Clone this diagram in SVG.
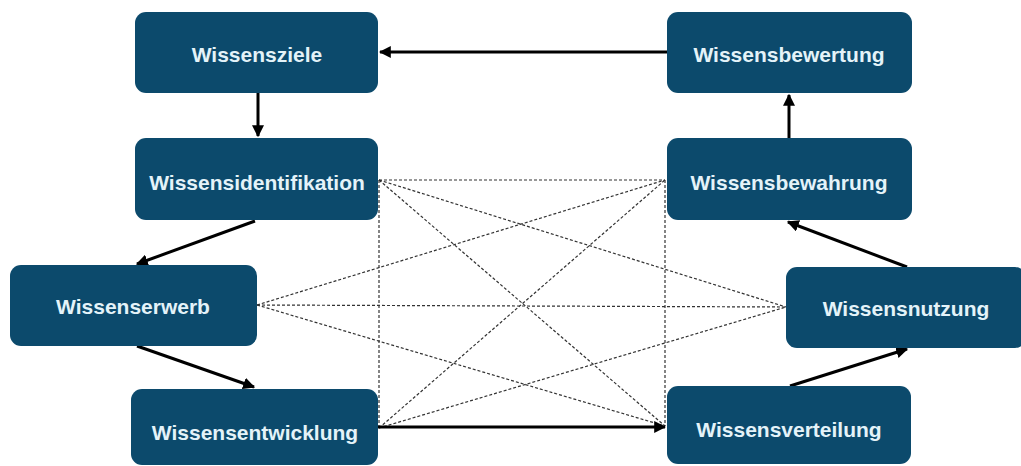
<svg xmlns="http://www.w3.org/2000/svg" width="1021" height="466" viewBox="0 0 1021 466">
<style>
.n rect{fill:#0c4a6c;}
.n text{font-family:"Liberation Sans",Arial,sans-serif;font-weight:bold;font-size:21px;fill:#e4f3f9;text-anchor:middle;dominant-baseline:central;}
.a{stroke:#000;stroke-width:3;fill:none;marker-end:url(#ah);}
.d{stroke:#333;stroke-width:1.2;stroke-dasharray:3 2;fill:none;}
</style>
<defs>
<marker id="ah" viewBox="0 0 10 10" refX="9" refY="5" markerWidth="4" markerHeight="4" orient="auto" markerUnits="strokeWidth">
<path d="M0,0 L10,5 L0,10 z" fill="#000"/>
</marker>
</defs>
<rect width="1021" height="466" fill="#fff"/>
<g id="connectors">
<line class="d" x1="379" y1="180" x2="665" y2="180"/>
<line class="d" x1="379" y1="180" x2="786" y2="307"/>
<line class="d" x1="379" y1="180" x2="665" y2="426"/>
<line class="d" x1="379" y1="180" x2="379" y2="428"/>
<line class="d" x1="257" y1="305" x2="665" y2="180"/>
<line class="d" x1="257" y1="305" x2="786" y2="307"/>
<line class="d" x1="257" y1="305" x2="665" y2="426"/>
<line class="d" x1="379" y1="428" x2="665" y2="180"/>
<line class="d" x1="379" y1="428" x2="786" y2="307"/>
<line class="d" x1="665" y1="180" x2="665" y2="426"/>
<line class="a" x1="667" y1="52" x2="380" y2="52"/>
<line class="a" x1="258" y1="93" x2="258" y2="136"/>
<line class="a" x1="255" y1="221" x2="137" y2="264"/>
<line class="a" x1="137" y1="346" x2="254" y2="387"/>
<line class="a" x1="378" y1="427" x2="665" y2="427"/>
<line class="a" x1="790" y1="386" x2="907" y2="349"/>
<line class="a" x1="907" y1="267" x2="788" y2="222"/>
<line class="a" x1="789" y1="138" x2="789" y2="95"/>
</g>
<g id="wissensziele" class="n"><rect x="135" y="12" width="243" height="81" rx="11"/><text x="257" y="54">Wissensziele</text></g>
<g id="wissensbewertung" class="n"><rect x="667" y="12" width="245" height="81" rx="11"/><text x="789" y="54">Wissensbewertung</text></g>
<g id="wissensidentifikation" class="n"><rect x="135" y="138" width="243" height="82" rx="11"/><text x="257" y="182">Wissensidentifikation</text></g>
<g id="wissensbewahrung" class="n"><rect x="667" y="138" width="245" height="82" rx="11"/><text x="789" y="182">Wissensbewahrung</text></g>
<g id="wissenserwerb" class="n"><rect x="10" y="265" width="247" height="81" rx="11"/><text x="133" y="306">Wissenserwerb</text></g>
<g id="wissensnutzung" class="n"><rect x="786" y="267" width="240" height="81" rx="11"/><text x="906" y="308">Wissensnutzung</text></g>
<g id="wissensentwicklung" class="n"><rect x="131" y="389" width="247" height="76" rx="11"/><text x="255" y="432">Wissensentwicklung</text></g>
<g id="wissensverteilung" class="n"><rect x="667" y="386" width="244" height="78" rx="11"/><text x="789" y="429">Wissensverteilung</text></g>
</svg>
